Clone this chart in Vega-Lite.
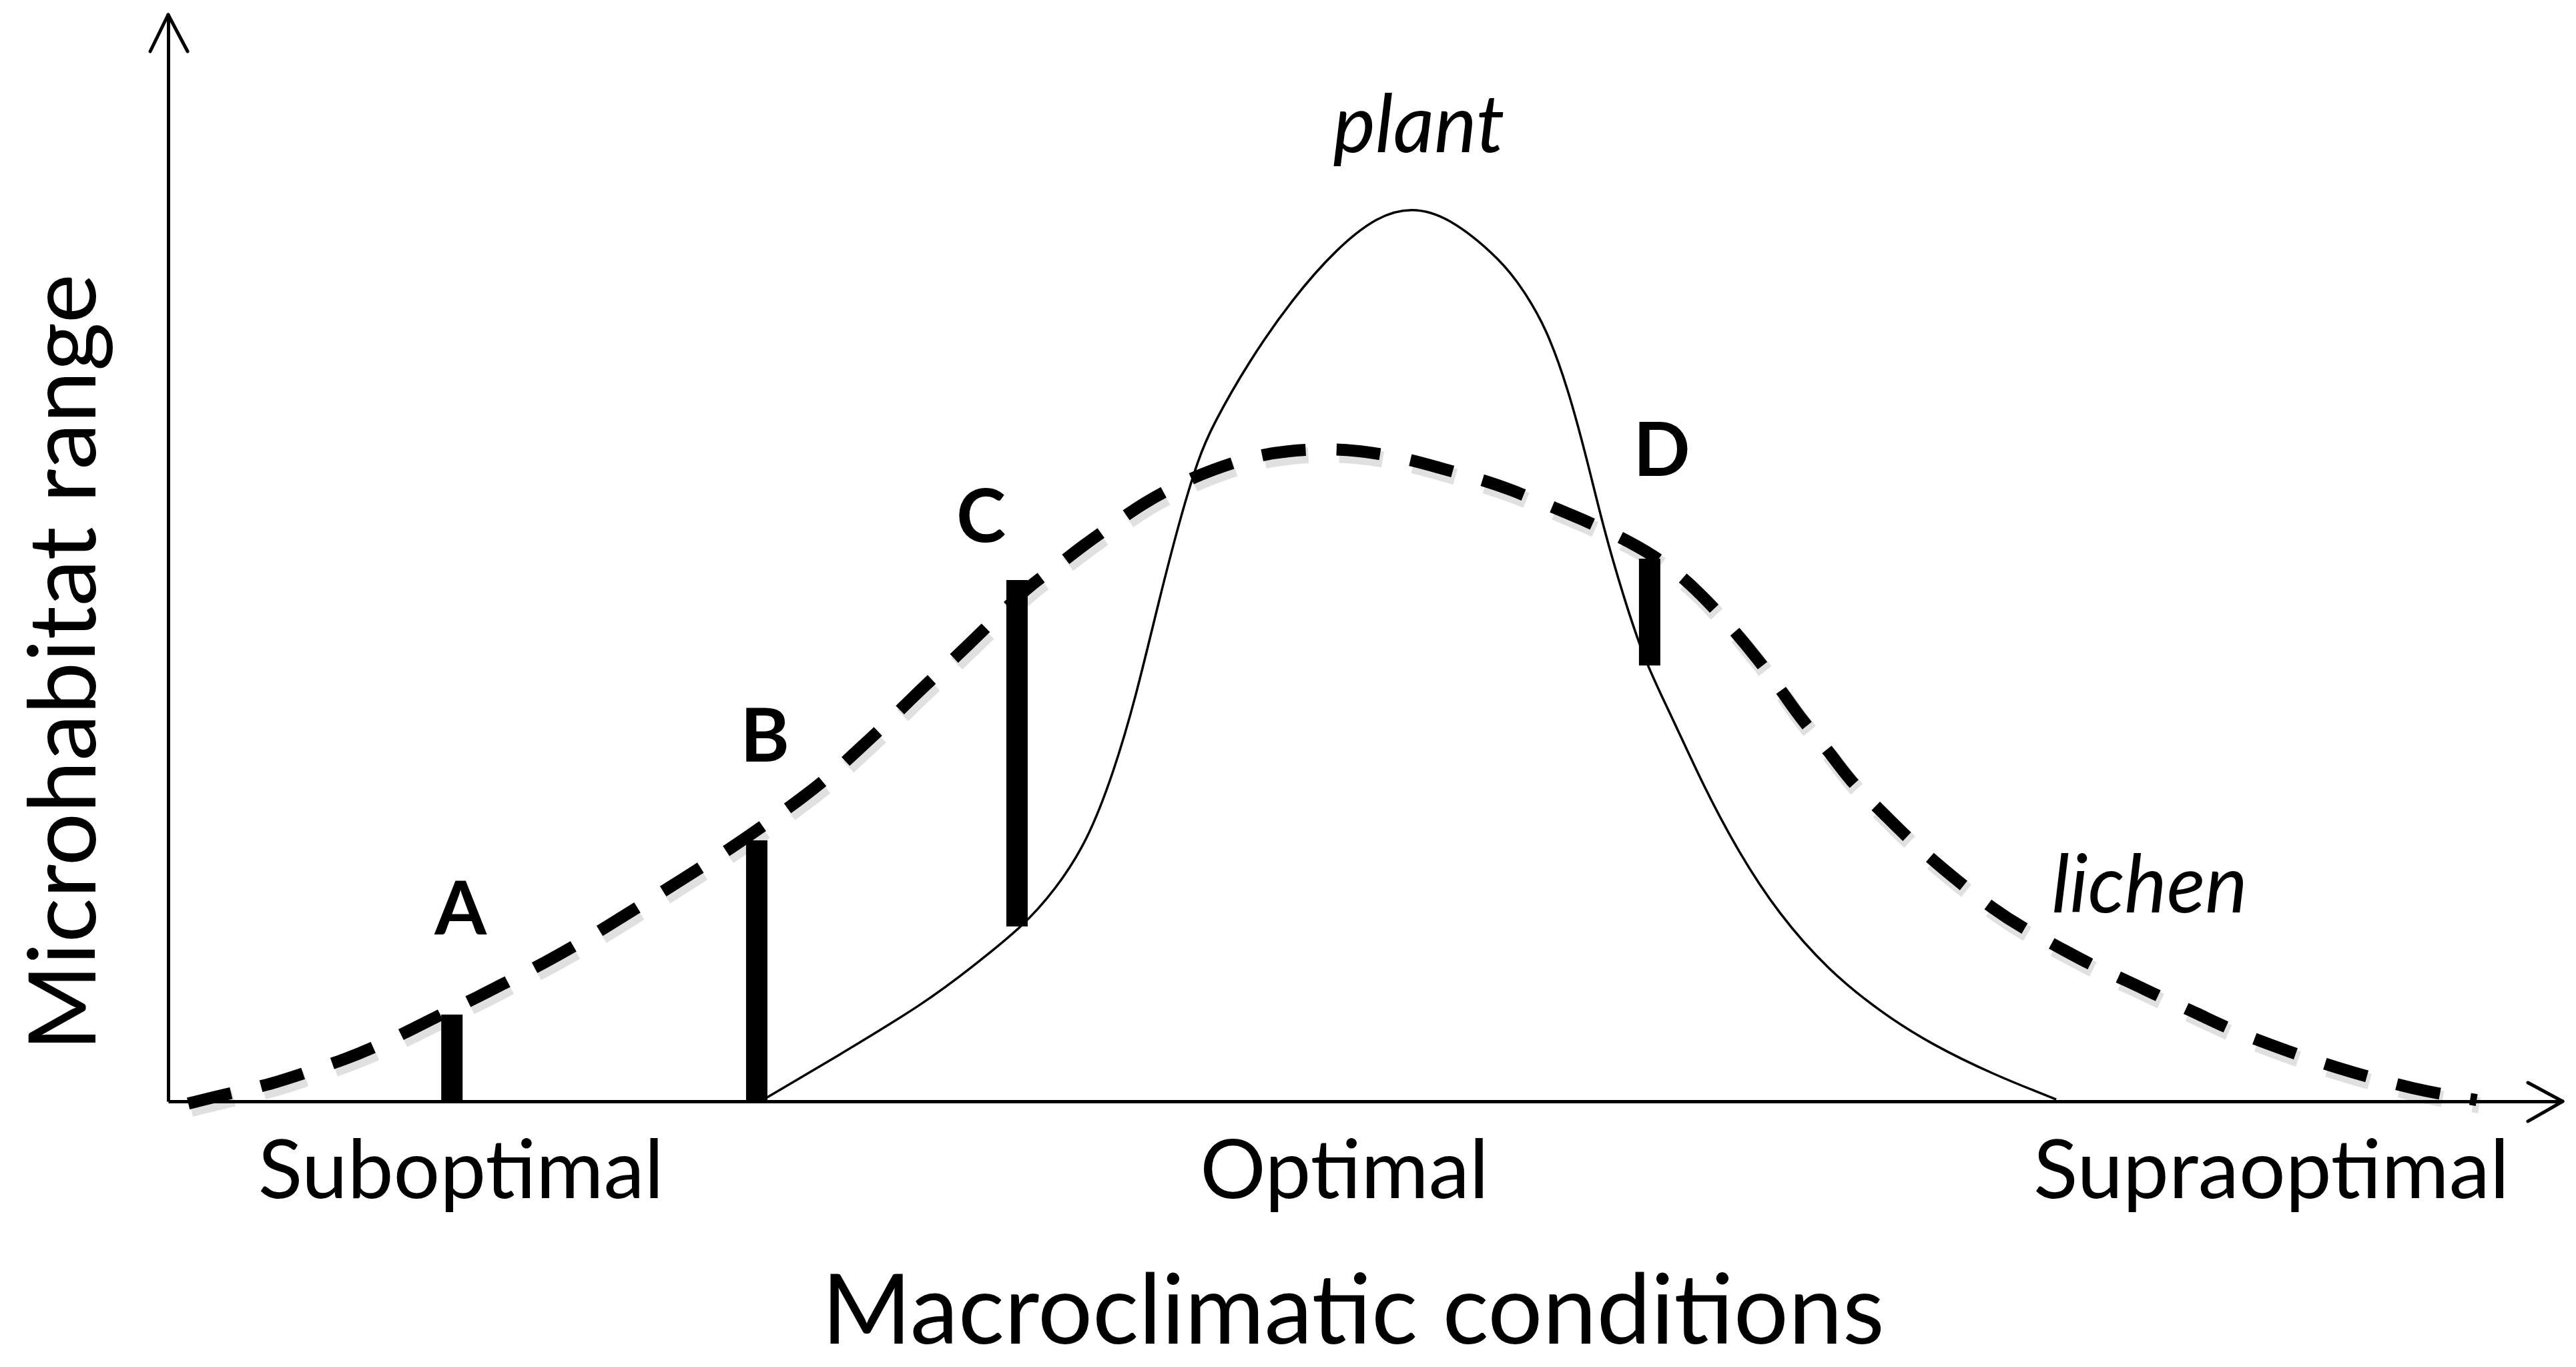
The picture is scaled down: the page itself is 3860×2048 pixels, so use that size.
{
  "$schema": "https://vega.github.io/schema/vega-lite/v6.json",
  "width": 3588,
  "height": 1628,
  "autosize": {"type": "none"},
  "padding": {"left": 252, "top": 22, "right": 20, "bottom": 398},
  "background": "white",
  "config": {"view": {"stroke": null}},
  "datasets": {
    "lichen": [
      {"x":0.84,"y":-0.2},{"x":2.56,"y":0.74},{"x":4.13,"y":1.47},{"x":5.74,"y":2.64},{"x":7.47,"y":3.93},{"x":8.72,"y":5.10},{"x":10.03,"y":6.45},{"x":11.43,"y":8.05},{"x":12.93,"y":9.58},{"x":14.41,"y":11.30},{"x":15.64,"y":12.65},{"x":17.22,"y":14.62},{"x":18.42,"y":16.22},{"x":19.93,"y":18.30},{"x":21.13,"y":19.96},{"x":22.63,"y":22.05},{"x":23.86,"y":23.83},{"x":25.25,"y":25.98},{"x":26.42,"y":27.83},{"x":27.73,"y":30.10},{"x":28.76,"y":32.25},{"x":30.07,"y":34.89},{"x":31.08,"y":37.16},{"x":32.39,"y":39.86},{"x":33.42,"y":42.01},{"x":34.73,"y":44.84},{"x":35.95,"y":47.42},{"x":37.21,"y":49.39},{"x":38.18,"y":51.11},{"x":39.69,"y":53.44},{"x":40.80,"y":55.16},{"x":42.39,"y":57.00},{"x":43.59,"y":58.11},{"x":45.26,"y":59.34},{"x":46.77,"y":59.89},{"x":48.55,"y":60.07},{"x":49.94,"y":59.83},{"x":51.73,"y":59.15},{"x":53.01,"y":58.35},{"x":54.79,"y":57.25},{"x":56.05,"y":56.33},{"x":57.64,"y":54.85},{"x":59.06,"y":53.56},{"x":60.62,"y":51.97},{"x":62.04,"y":50.25},{"x":63.24,"y":48.28},{"x":64.27,"y":46.07},{"x":65.39,"y":43.37},{"x":66.33,"y":40.85},{"x":67.45,"y":37.59},{"x":68.20,"y":35.14},{"x":69.40,"y":32.13},{"x":70.23,"y":29.48},{"x":71.54,"y":26.72},{"x":72.49,"y":24.57},{"x":73.80,"y":21.99},{"x":74.92,"y":19.96},{"x":76.23,"y":17.69},{"x":77.43,"y":15.97},{"x":79.01,"y":14.13},{"x":80.32,"y":12.53},{"x":81.91,"y":11.00},{"x":83.22,"y":9.58},{"x":84.73,"y":8.11},{"x":86.09,"y":6.63},{"x":87.71,"y":5.28},{"x":89.08,"y":4.18},{"x":90.69,"y":3.01},{"x":92.06,"y":2.15},{"x":93.76,"y":1.17},{"x":95.23,"y":0.55},{"x":96.41,"y":0.12}
    ],
    "plant": [
      {"x":24.97,"y":0.3},{"x":27.82,"y":3.99},{"x":31.72,"y":9.21},{"x":33.53,"y":12.29},{"x":35.70,"y":16.09},{"x":37.07,"y":19.53},{"x":38.38,"y":23.89},{"x":39.49,"y":30.28},{"x":40.41,"y":37.16},{"x":41.36,"y":45.95},{"x":42.28,"y":53.81},{"x":43.03,"y":59.21},{"x":43.59,"y":62.10},{"x":45.10,"y":68.00},{"x":46.96,"y":73.89},{"x":48.83,"y":78.56},{"x":50.50,"y":81.45},{"x":51.90,"y":82.31},{"x":53.48,"y":81.45},{"x":55.69,"y":77.40},{"x":56.61,"y":74.63},{"x":57.55,"y":71.19},{"x":58.47,"y":65.54},{"x":59.23,"y":59.28},{"x":59.98,"y":52.46},{"x":60.73,"y":46.81},{"x":61.65,"y":40.54},{"x":62.79,"y":35.44},{"x":64.08,"y":29.18},{"x":65.58,"y":22.91},{"x":67.25,"y":17.26},{"x":69.31,"y":12.10},{"x":71.54,"y":8.17},{"x":73.61,"y":5.28},{"x":76.23,"y":2.46},{"x":78.85,"y":0.18}
    ],
    "bars": [
      {"site":"A","x":11.85,"y":0,"y2":7.99},
      {"site":"B","x":24.58,"y":0,"y2":24.02},
      {"site":"C","x":35.45,"y":16.09,"y2":47.97},
      {"site":"D","x":61.87,"y":40.11,"y2":49.94}
    ],
    "arrows": [
      {"x":-0.75,"y":96.62,"x2":0,"y2":100},
      {"x":0.81,"y":96.62,"x2":0,"y2":100},
      {"x":98.55,"y":1.72,"x2":100,"y2":0},
      {"x":98.55,"y":-1.84,"x2":100,"y2":0}
    ],
    "letters": [
      {"label":"A","x":12.21,"y":15.36},
      {"label":"B","x":24.92,"y":31.27},
      {"label":"C","x":33.95,"y":51.47},
      {"label":"D","x":62.38,"y":57.56}
    ],
    "species": [
      {"label":"plant","x":52.23,"y":87.35},
      {"label":"lichen","x":82.75,"y":17.38}
    ]
  },
  "encoding": {
    "x": {
      "field": "x", "type": "quantitative",
      "scale": {"domain": [0, 100], "nice": false, "zero": false},
      "axis": {
        "values": [12.21, 49.11, 87.82],
        "labelExpr": "datum.value < 30 ? 'Suboptimal' : datum.value < 70 ? 'Optimal' : 'Supraoptimal'",
        "grid": false, "ticks": false, "tickSize": 0,
        "domain": true, "domainColor": "#000000", "domainWidth": 5,
        "labelFont": "Lato", "labelFontSize": 123, "labelColor": "#000000", "labelLimit": 0,
        "labelBaseline": "alphabetic", "labelPadding": 144, "labelOverlap": false, "labelFlush": false, "labelBound": false,
        "title": "Macroclimatic conditions",
        "titleFont": "Lato", "titleFontSize": 145, "titleFontWeight": "normal", "titleColor": "#000000", "titleLimit": 0,
        "titleAnchor": "start", "titleAlign": "center", "titleBaseline": "alphabetic",
        "titleX": 1775, "titleY": 362
      }
    },
    "y": {
      "field": "y", "type": "quantitative",
      "scale": {"domain": [0, 100], "nice": false, "zero": false},
      "axis": {
        "grid": false, "ticks": false, "labels": false, "tickSize": 0,
        "domain": true, "domainColor": "#000000", "domainWidth": 5,
        "title": "Microhabitat range",
        "titleFont": "Lato", "titleFontSize": 140, "titleFontWeight": "normal", "titleColor": "#000000", "titleLimit": 0,
        "titleAngle": -90, "titleAlign": "center", "titleBaseline": "alphabetic",
        "titleX": -110, "titleY": 970
      }
    }
  },
  "layer": [
    {
      "data": {"name": "lichen"},
      "mark": {"type": "line", "interpolate": "basis", "color": "#000000", "opacity": 0.12, "strokeWidth": 24, "strokeDash": [66, 46], "xOffset": 4, "yOffset": 8}
    },
    {
      "data": {"name": "lichen"},
      "mark": {"type": "line", "interpolate": "basis", "color": "#000000", "strokeWidth": 18, "strokeDash": [66, 46], "strokeCap": "butt"}
    },
    {
      "data": {"name": "plant"},
      "mark": {"type": "line", "interpolate": "basis", "color": "#000000", "strokeWidth": 3.5}
    },
    {
      "data": {"name": "bars"},
      "mark": {"type": "rule", "color": "#000000", "strokeWidth": 32, "strokeCap": "butt"},
      "encoding": {
        "y2": {"field": "y2"}
      }
    },
    {
      "data": {"name": "arrows"},
      "mark": {"type": "rule", "color": "#000000", "strokeWidth": 5, "strokeCap": "round"},
      "encoding": {
        "x2": {"field": "x2"},
        "y2": {"field": "y2"}
      }
    },
    {
      "data": {"name": "letters"},
      "mark": {"type": "text", "font": "Lato", "fontWeight": "bold", "fontSize": 112, "align": "center", "baseline": "alphabetic", "color": "#000000"},
      "encoding": {
        "text": {"field": "label"}
      }
    },
    {
      "data": {"name": "species"},
      "mark": {"type": "text", "font": "Lato", "fontStyle": "italic", "fontSize": 120, "align": "center", "baseline": "alphabetic", "color": "#000000"},
      "encoding": {
        "text": {"field": "label"}
      }
    }
  ]
}
